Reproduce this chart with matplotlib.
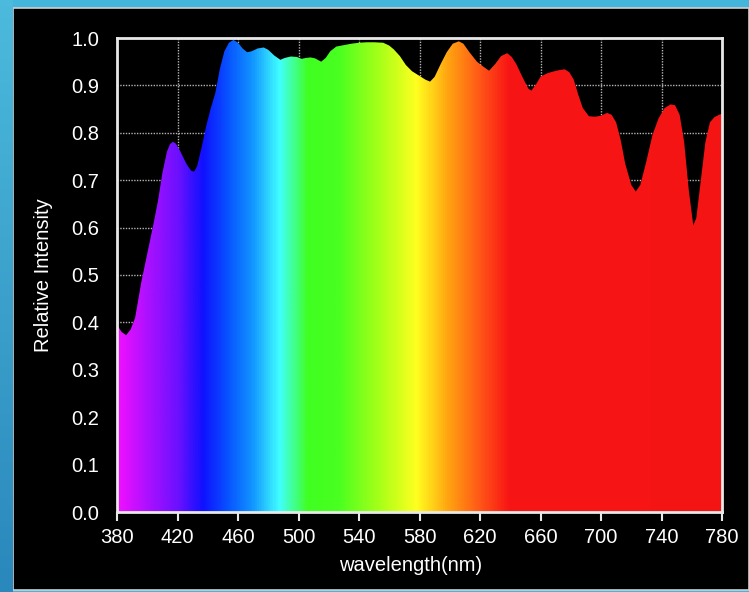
import numpy as np
import matplotlib.pyplot as plt
from matplotlib.colors import LinearSegmentedColormap
from matplotlib.patches import Rectangle, Polygon

# spectrum
wavelength = [380, 383, 386, 389, 392, 396, 400, 404, 407, 410, 413, 415, 417, 419, 422,
              426, 429, 431, 433, 436, 439, 442, 445, 448, 451, 454, 457, 460, 463, 466,
              469, 473, 477, 480, 484, 488, 491, 495, 499, 502, 505, 508, 511, 515, 518,
              521, 525, 530, 535, 540, 545, 550, 556, 560, 563, 567, 571, 575, 580, 584,
              587, 590, 594, 598, 602, 606, 609, 613, 618, 622, 626, 630, 634, 638, 641,
              644, 648, 652, 654, 657, 660, 664, 668, 672, 676, 679, 682, 685, 688, 692,
              696, 700, 704, 707, 710, 713, 716, 720, 723, 726, 730, 734, 738, 742, 746,
              749, 752, 755, 758, 761, 763, 766, 769, 772, 775, 778, 780]
intensity = [0.395, 0.38, 0.373, 0.385, 0.41, 0.484, 0.545, 0.606, 0.655, 0.715, 0.76, 0.776,
             0.781, 0.777, 0.76, 0.734, 0.72, 0.718, 0.73, 0.77, 0.815, 0.852, 0.884, 0.935,
             0.972, 0.99, 0.996, 0.99, 0.978, 0.97, 0.972, 0.978, 0.98, 0.975, 0.963, 0.954,
             0.958, 0.961, 0.96, 0.956, 0.958, 0.959, 0.957, 0.95, 0.958, 0.972, 0.982, 0.985,
             0.988, 0.99, 0.991, 0.991, 0.99, 0.984, 0.976, 0.962, 0.943, 0.93, 0.92, 0.912,
             0.908, 0.918, 0.945, 0.97, 0.988, 0.993, 0.988, 0.97, 0.95, 0.94, 0.931, 0.945,
             0.962, 0.968, 0.96, 0.945, 0.918, 0.893, 0.889, 0.902, 0.918, 0.925, 0.929, 0.932,
             0.934, 0.928, 0.912, 0.88, 0.852, 0.835, 0.834, 0.836, 0.842, 0.838, 0.822, 0.785,
             0.735, 0.69, 0.676, 0.69, 0.74, 0.795, 0.83, 0.852, 0.86, 0.858, 0.838, 0.78,
             0.68, 0.605, 0.62, 0.7, 0.78, 0.822, 0.833, 0.838, 0.84]

x_ticks = [380, 420, 460, 500, 540, 580, 620, 660, 700, 740, 780]
y_ticks = [0.0, 0.1, 0.2, 0.3, 0.4, 0.5, 0.6, 0.7, 0.8, 0.9, 1.0]

# colour stops of the rainbow fill
stop_nm = [380, 398, 420, 436, 452, 468, 487, 506, 526, 556, 578, 600, 622, 640, 780]
stop_colors = ['#f010ff', '#b010ff', '#6a10ff', '#1010ff', '#0850ff', '#1090ff', '#40ffff',
               '#40ff20', '#48ff20', '#b0ff18', '#ffff20', '#ffa010', '#ff5018', '#f81414',
               '#f51515']

plt.rcParams['font.family'] = ['Liberation Sans', 'DejaVu Sans']

fig = plt.figure(figsize=(7.49, 5.92), dpi=100, facecolor='#44b6dc')

# black panel and the blue strip on the left
fig.patches.append(Rectangle((13 / 749, 2 / 592), 736 / 749, 582 / 592, transform=fig.transFigure,
                             facecolor='black', edgecolor='#cfcfcf', lw=1.2, zorder=-10))
strip = fig.add_axes([0, 0, 12 / 749, 1])
strip.imshow(np.linspace(0, 1, 100)[:, None], aspect='auto',
             cmap=LinearSegmentedColormap.from_list('strip', ['#4cbadc', '#2a88bc']))
strip.axis('off')

ax = fig.add_axes([117 / 749, 80 / 592, 605 / 749, 474 / 592])
ax.set_facecolor('black')

lo, hi = stop_nm[0], stop_nm[-1]
cmap = LinearSegmentedColormap.from_list(
    'spectrum', [((w - lo) / (hi - lo), c) for w, c in zip(stop_nm, stop_colors)])
grad = np.linspace(0, 1, 800)[None, :]
im = ax.imshow(grad, extent=[lo, hi, 0, 1], aspect='auto', cmap=cmap, zorder=2,
               interpolation='bilinear')

verts = list(zip(wavelength, intensity)) + [(wavelength[-1], 0), (wavelength[0], 0)]
clip = Polygon(verts, closed=True, facecolor='none', edgecolor='none', transform=ax.transData)
ax.add_patch(clip)
im.set_clip_path(clip)

ax.set_xlim(380, 780)
ax.set_ylim(0, 1)
ax.set_xticks(x_ticks)
ax.set_yticks(y_ticks)
ax.set_yticklabels([f'{v:.1f}' for v in y_ticks])

ax.set_axisbelow(True)
ax.grid(True, color='#b5b5b5', linestyle=(0, (1, 1)), lw=1)

for s in ax.spines.values():
    s.set_color('#e8e8e8')
    s.set_linewidth(2)
    s.set_zorder(3)

ax.tick_params(axis='x', colors='#e8e8e8', length=6.5, width=1.5, direction='out',
               labelsize=14.5, labelcolor='white', pad=5)
ax.tick_params(axis='y', length=0, labelsize=14.5, labelcolor='white', pad=13)

ax.set_xlabel('wavelength(nm)', color='white', fontsize=14.5)
ax.xaxis.set_label_coords(0.485, -0.092)
ax.set_ylabel('Relative Intensity', color='white', fontsize=14.5)
ax.yaxis.set_label_coords(-0.106, 0.5)

fig.savefig('out.png', dpi=100, facecolor=fig.get_facecolor())
